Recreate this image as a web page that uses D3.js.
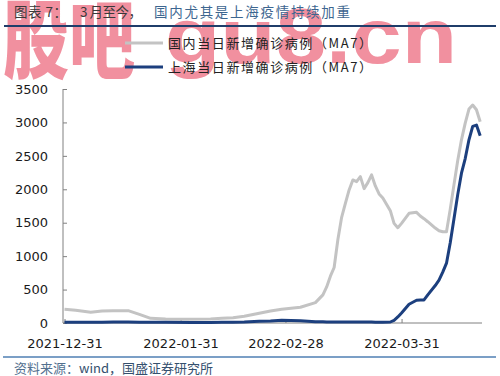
<!DOCTYPE html>
<html><head><meta charset="utf-8">
<script src="https://cdn.jsdelivr.net/npm/d3@7"></script>
<style>body{margin:0;background:#fff}svg{display:block}</style>
</head><body><div id="chart"></div>
<script>
// ---- data ----
const dates = ["2021-12-31","2022-01-03","2022-01-07","2022-01-10","2022-01-13","2022-01-17","2022-01-20","2022-01-23","2022-01-27","2022-02-03","2022-02-08","2022-02-11","2022-02-14","2022-02-17","2022-02-21","2022-02-24","2022-02-27","2022-03-04","2022-03-08","2022-03-10","2022-03-11","2022-03-12","2022-03-13","2022-03-14","2022-03-15","2022-03-16","2022-03-17","2022-03-18","2022-03-19","2022-03-20","2022-03-21","2022-03-22","2022-03-23","2022-03-24","2022-03-25","2022-03-26","2022-03-28","2022-03-29","2022-03-30","2022-03-31","2022-04-02","2022-04-04","2022-04-05","2022-04-06","2022-04-07","2022-04-09","2022-04-10","2022-04-11","2022-04-12","2022-04-13","2022-04-14","2022-04-15","2022-04-16","2022-04-17","2022-04-18","2022-04-19","2022-04-20","2022-04-21"];
const national = [205,190,160,180,185,185,130,70,60,55,60,70,80,100,145,180,205,235,305,420,540,700,830,1250,1580,1790,1990,2140,2115,2190,2010,2100,2215,2050,1930,1870,1680,1490,1425,1490,1640,1655,1600,1560,1515,1420,1380,1365,1365,1700,2070,2430,2740,2990,3200,3260,3190,3010];
const shanghai = [10,10,12,12,15,15,12,10,10,8,8,10,12,15,25,30,40,35,20,18,15,15,15,15,15,15,15,15,15,15,15,15,15,12,12,12,15,40,90,150,280,340,345,345,420,560,640,760,895,1200,1560,1920,2240,2460,2740,2940,2960,2800];
const yTicks = [0,500,1000,1500,2000,2500,3000,3500];
const xTickDates = ["2021-12-31","2022-01-31","2022-02-28","2022-03-31"];
const seriesNames = ["国内当日新增确诊病例（MA7）","上海当日新增确诊病例（MA7）"];
const titleParts = ["图表 7：","3 月至今，","国内尤其是上海疫情持续加重"];
const sourceParts = ["资料来源：","wind，国盛证券研究所"];
const watermark = ["股吧","gu8.cn"];

const parse = d3.timeParse("%Y-%m-%d");
const W = 500, H = 376;
const svg = d3.select("#chart").append("svg").attr("width", W).attr("height", H);

const x = d3.scaleTime().domain([parse("2021-12-31"), parse("2022-04-21")]).range([64.5, 480.2]);
const y = d3.scaleLinear().domain([0, 3500]).range([323, 89]);

const cjk = "'Noto Sans CJK SC', 'Noto Sans', sans-serif";
const latin = "'DejaVu Sans', Verdana, sans-serif";

// watermark (behind everything)
const wm = svg.append("g").attr("fill", "#f08595").attr("opacity", 0.9);
wm.append("text").attr("x", 3).attr("y", 72).attr("font-family", cjk).attr("font-weight", 900)
  .attr("font-size", 86).attr("textLength", 132).attr("lengthAdjust", "spacingAndGlyphs").text(watermark[0]);
wm.append("text").attr("x", 165).attr("y", 63).attr("font-family", "'Liberation Sans', Arial, sans-serif").attr("font-weight", 700)
  .attr("font-size", 77).attr("textLength", 292).attr("lengthAdjust", "spacingAndGlyphs").text(watermark[1]);

// title
const t = svg.append("g").attr("font-family", cjk).attr("font-size", 13.5);
t.append("text").attr("x", 14).attr("y", 17).attr("fill", "#3a3a3a").attr("textLength", 53).attr("lengthAdjust","spacing").text(titleParts[0]);
t.append("text").attr("x", 80).attr("y", 17).attr("fill", "#3a3a3a").attr("textLength", 62).attr("lengthAdjust","spacing").text(titleParts[1]);
t.append("text").attr("x", 154).attr("y", 17).attr("fill", "#3d6690").attr("textLength", 196).attr("lengthAdjust","spacing").text(titleParts[2]);
svg.append("line").attr("x1", 4).attr("x2", 496).attr("y1", 26).attr("y2", 26).attr("stroke", "#1f3d6a").attr("stroke-width", 2);

// legend
const colors = ["#c3c3c3", "#1c3f7e"];
[43, 67].forEach((ly, i) => {
  svg.append("line").attr("x1", 125).attr("x2", 163).attr("y1", ly).attr("y2", ly)
    .attr("stroke", colors[i]).attr("stroke-width", 3);
  svg.append("text").attr("x", 168).attr("y", ly).attr("dy", "0.36em")
    .attr("font-family", cjk).attr("font-size", 13).attr("fill", "#222")
    .attr("textLength", 204).attr("lengthAdjust", "spacing").text(seriesNames[i]);
});

// axes
const yAxis = d3.axisLeft(y).tickValues(yTicks).tickSizeInner(-4).tickSizeOuter(0).tickPadding(15).tickFormat(d3.format("d"));
const gy = svg.append("g").attr("transform", "translate(63,0)").call(yAxis);
gy.select(".domain").remove();
gy.append("line").attr("x1", 0).attr("x2", 0).attr("y1", y(3500)).attr("y2", y(0)).attr("stroke", "#808080");
gy.selectAll(".tick line").attr("stroke", "#808080");
gy.selectAll(".tick text").attr("font-family", latin).attr("font-size", 13).attr("fill", "#1a1a1a");

const xAxis = d3.axisBottom(x).tickValues(xTickDates.map(parse)).tickSizeInner(-4).tickSizeOuter(0).tickPadding(15).tickFormat(d3.timeFormat("%Y-%m-%d"));
const gx = svg.append("g").attr("transform", "translate(0,323)").call(xAxis);
gx.select(".domain").remove();
gx.append("line").attr("x1", 63).attr("x2", 482).attr("y1", 0).attr("y2", 0).attr("stroke", "#808080");
gx.selectAll(".tick line").attr("stroke", "#808080");
gx.selectAll(".tick text").attr("font-family", latin).attr("font-size", 13).attr("fill", "#1a1a1a").attr("y", 25).attr("dy", 0);

// lines
const pts = dates.map(parse);
const line = d3.line().x((d, i) => x(pts[i])).y(d => y(d)).curve(d3.curveLinear);
svg.append("path").datum(national).attr("d", line).attr("fill", "none")
  .attr("stroke", colors[0]).attr("stroke-width", 3).attr("stroke-linejoin", "round");
svg.append("path").datum(shanghai).attr("d", line).attr("fill", "none")
  .attr("stroke", colors[1]).attr("stroke-width", 3).attr("stroke-linejoin", "round");

// bottom rule and source
svg.append("line").attr("x1", 3).attr("x2", 496).attr("y1", 357).attr("y2", 357).attr("stroke", "#4f7fb3").attr("stroke-width", 1.5);
const s = svg.append("text").attr("x", 14).attr("y", 368).attr("dy", "0.36em").attr("font-family", cjk).attr("font-size", 13);
s.append("tspan").attr("fill", "#52708f").text(sourceParts[0]);
s.append("tspan").attr("fill", "#35506e").text(sourceParts[1]);
</script></body></html>
